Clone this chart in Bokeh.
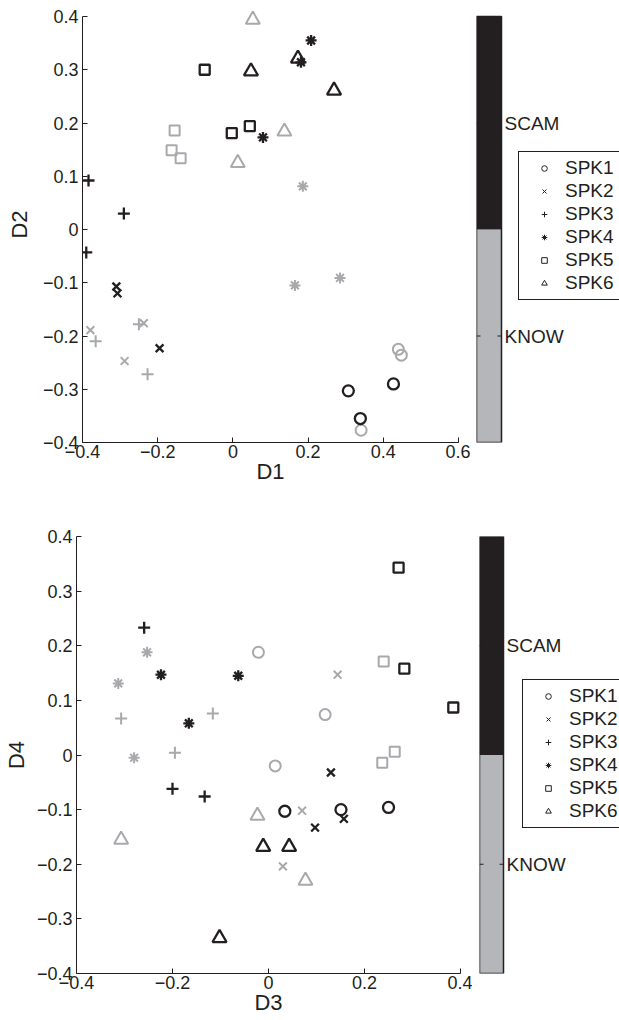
from bokeh.plotting import figure
from bokeh.layouts import column, row
from bokeh.models import FixedTicker, Range1d, Legend, LegendItem, ColumnDataSource
from bokeh.core.properties import value
from bokeh.embed import file_html
from bokeh.resources import INLINE

speakers = ["SPK1", "SPK2", "SPK3", "SPK4", "SPK5", "SPK6"]
classes = ["KNOW", "SCAM"]

# ---- Panel 1: D1 vs D2 (three points per speaker and class) ----
d1_scam = [[0.307, 0.339, 0.427], [-0.310, -0.307, -0.195], [-0.384, -0.290, -0.390],
           [0.208, 0.181, 0.080], [-0.075, -0.003, 0.045], [0.048, 0.173, 0.269]]
d2_scam = [[-0.303, -0.355, -0.290], [-0.107, -0.120, -0.223], [0.092, 0.030, -0.043],
           [0.355, 0.314, 0.173], [0.300, 0.181, 0.194], [0.297, 0.321, 0.261]]
d1_know = [[0.341, 0.440, 0.448], [-0.379, -0.288, -0.237], [-0.365, -0.227, -0.250],
           [0.186, 0.165, 0.285], [-0.155, -0.163, -0.139], [0.053, 0.137, 0.013]]
d2_know = [[-0.377, -0.225, -0.236], [-0.189, -0.247, -0.176], [-0.210, -0.272, -0.178],
           [0.081, -0.105, -0.091], [0.186, 0.149, 0.134], [0.394, 0.184, 0.125]]

# ---- Panel 2: D3 vs D4 ----
d3_scam = [[0.034, 0.151, 0.250], [0.130, 0.157, 0.097], [-0.259, -0.200, -0.133],
           [-0.224, -0.166, -0.063], [0.271, 0.283, 0.385], [-0.011, 0.043, -0.102]]
d4_scam = [[-0.103, -0.100, -0.096], [-0.032, -0.117, -0.133], [0.233, -0.062, -0.076],
           [0.147, 0.058, 0.145], [0.343, 0.158, 0.087], [-0.168, -0.168, -0.335]]
d3_know = [[-0.021, 0.014, 0.118], [0.144, 0.070, 0.030], [-0.307, -0.195, -0.116],
           [-0.253, -0.313, -0.280], [0.240, 0.263, 0.237], [-0.307, -0.023, 0.077]]
d4_know = [[0.188, -0.020, 0.074], [0.147, -0.102, -0.204], [0.067, 0.004, 0.076],
           [0.188, 0.131, -0.005], [0.171, 0.006, -0.014], [-0.155, -0.111, -0.230]]

x_ticks_top = [-0.4, -0.2, 0, 0.2, 0.4, 0.6]
x_ticks_bottom = [-0.4, -0.2, 0, 0.2, 0.4]
y_ticks = [-0.4, -0.3, -0.2, -0.1, 0, 0.1, 0.2, 0.3, 0.4]
class_ticks = [0.5, 1.5]

BLACK = "#231f20"
GRAY = "#a7a9ac"
BAR_GRAY = "#b4b6b9"
FONT = "Liberation Sans"
MARKERS = ["circle", "x", "cross", "asterisk", "square", "triangle"]
SIZES = [11, 11, 12, 11, 10, 14]
LEG_SIZES = [6, 5, 6, 6, 6, 7]


def lab(v):
    s = ("%g" % v)
    return s.replace("-", "\u2212")


def extended_end(lo, hi, height, mb_top, mb_bottom, extra_top):
    # range end so that `hi` sits extra_top px below the frame top
    frame_h = height - mb_top - mb_bottom
    return lo + (hi - lo) * frame_h / (frame_h - extra_top)


def style_axis(ax, ticks):
    ax.ticker = FixedTicker(ticks=ticks)
    ax.bounds = (ticks[0], ticks[-1])
    ax.major_label_overrides = {t: lab(t) for t in ticks}
    ax.major_tick_in = 5
    ax.major_tick_out = 0
    ax.minor_tick_line_color = None
    ax.axis_line_color = BLACK
    ax.major_tick_line_color = BLACK
    ax.major_label_text_font = FONT
    ax.major_label_text_font_size = "18px"
    ax.major_label_text_color = BLACK
    ax.axis_label_text_font = FONT
    ax.axis_label_text_font_size = "22px"
    ax.axis_label_text_font_style = "normal"
    ax.axis_label_text_color = BLACK


def main_fig(xs_s, ys_s, xs_k, ys_k, xr, xticks, xlabel, ylabel, width, height, mb,
             ylab_standoff, extra_top=0):
    y_lo, y_hi = y_ticks[0], y_ticks[-1]
    y_end = extended_end(y_lo, y_hi, height, mb[2], mb[3], extra_top)
    p = figure(width=width, height=height, x_range=Range1d(*xr), y_range=Range1d(y_lo, y_end),
               output_backend="svg", toolbar_location=None,
               min_border_left=mb[0], min_border_right=mb[1],
               min_border_top=mb[2], min_border_bottom=mb[3])
    p.outline_line_color = None
    p.grid.visible = False
    for i in range(len(speakers)):
        p.scatter(xs_k[i], ys_k[i], marker=MARKERS[i], size=SIZES[i], fill_color=None,
                  line_color=GRAY, line_width=2)
    for i in range(len(speakers)):
        p.scatter(xs_s[i], ys_s[i], marker=MARKERS[i], size=SIZES[i], fill_color=None,
                  line_color=BLACK, line_width=2.3)
    style_axis(p.xaxis[0], xticks)
    style_axis(p.yaxis[0], y_ticks)
    p.xaxis.axis_label = xlabel
    p.yaxis.axis_label = ylabel
    p.xaxis.major_label_standoff = 2
    p.xaxis.axis_label_standoff = -2
    p.yaxis.major_label_standoff = 4
    p.yaxis.axis_label_standoff = ylab_standoff
    return p


def side_fig(width, height, mleft, bar_w, mtop, mbottom, legend_loc, extra_top=0):
    frame_w = width - mleft
    y_end = extended_end(0, len(classes), height, mtop, mbottom, extra_top)
    p = figure(width=width, height=height, x_range=Range1d(0, frame_w / bar_w),
               y_range=Range1d(0, y_end),
               x_axis_location=None, y_axis_location=None,
               output_backend="svg", toolbar_location=None,
               min_border_left=mleft, min_border_right=0,
               min_border_top=mtop, min_border_bottom=mbottom)
    p.grid.visible = False
    p.outline_line_color = None
    src = ColumnDataSource(dict(bottom=[0, 1], top=[1, 2], color=[BAR_GRAY, BLACK]))
    p.quad(left=0, right=1, bottom="bottom", top="top", fill_color="color", line_color=None, source=src)
    # bar border
    p.quad(left=0, right=1, bottom=0, top=len(classes), fill_color=None,
           line_color=BLACK, line_width=1.5)
    # small inward ticks on both edges of the bar
    tk = 4.0 / bar_w
    p.segment(x0=0, x1=tk, y0=class_ticks, y1=class_ticks, line_color=BLACK, line_width=1)
    p.segment(x0=1 - tk, x1=1, y0=class_ticks, y1=class_ticks, line_color=BLACK, line_width=1)
    p.text(x=1, y=class_ticks, text=classes, x_offset=3, text_baseline="middle",
           text_align="left", text_font=value(FONT), text_font_size="19px", text_color=BLACK)
    items = []
    for i, spk in enumerate(speakers):
        # legend-only renderer: its point lies outside the visible range
        r = p.scatter(x=[-100], y=[-100], marker=MARKERS[i], size=LEG_SIZES[i], fill_color=None,
                      line_color=BLACK, line_width=1)
        items.append(LegendItem(label=spk, renderers=[r]))
    leg = Legend(items=items, location=legend_loc, padding=5, spacing=1, margin=0,
                 glyph_width=40, glyph_height=14, label_standoff=1, label_height=20,
                 label_text_font=FONT, label_text_font_size="19px", label_text_color=BLACK,
                 border_line_color=BLACK, border_line_width=1.2, border_line_alpha=1,
                 background_fill_color="white", background_fill_alpha=1)
    p.add_layout(leg)
    return p


top_main = main_fig(d1_scam, d2_scam, d1_know, d2_know, (-0.4, 0.6), x_ticks_top, "D1", "D2",
                    470, 496, (82, 12, 6, 54), 8, extra_top=10)
top_side = side_fig(149, 496, 6, 25, 6, 54, (42, 142), extra_top=10)

bot_main = main_fig(d3_scam, d4_scam, d3_know, d4_know, (-0.4, 0.4), x_ticks_bottom, "D3", "D4",
                    472, 524, (73, 12, 40, 47), 5)
bot_side = side_fig(147, 524, 7, 24, 40, 47, (43, 145))

layout = column(row(top_main, top_side), row(bot_main, bot_side))

open("out.html", "w").write(file_html(layout, INLINE))
